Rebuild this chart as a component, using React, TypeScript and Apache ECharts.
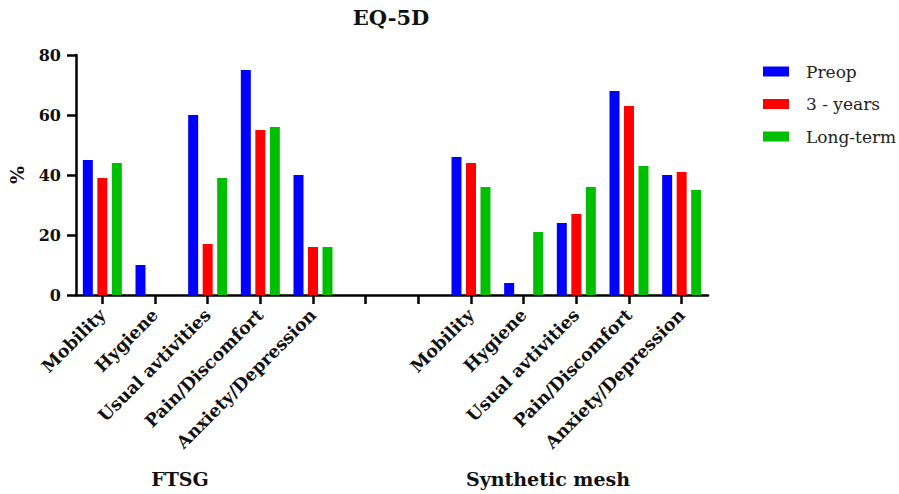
import React, { useEffect, useRef } from "react";
import * as echarts from "echarts";

const dimensions = ["Mobility", "Hygiene", "Usual avtivities", "Pain/Discomfort", "Anxiety/Depression"];
const groups = ["FTSG", "Synthetic mesh"];
const seriesNames = ["Preop", "3 - years", "Long-term"];
const yTicks = [0, 20, 40, 60, 80];

const ftsgPreop = [45, 10, 60, 75, 40];
const ftsg3y = [39, 0, 17, 55, 16];
const ftsgLong = [44, 0, 39, 56, 16];

const meshPreop = [46, 4, 24, 68, 40];
const mesh3y = [44, 0, 27, 63, 41];
const meshLong = [36, 21, 36, 43, 35];

const colors = ["#0000FF", "#FF0000", "#00BF00"];
const FONT = "DejaVu Serif";

export default function App() {
  const ref = useRef<HTMLDivElement>(null);
  useEffect(() => {
    document.body.style.margin = "0";
    if (!ref.current) return;
    const chart = echarts.init(ref.current, undefined, { renderer: "svg" });
    const cats = [
      ...dimensions.map((d) => "A|" + d),
      "gap|1",
      "gap|2",
      ...dimensions.map((d) => "B|" + d),
    ];
    const join = (a: number[], b: number[]) => [...a, null, null, ...b];
    const data = [join(ftsgPreop, meshPreop), join(ftsg3y, mesh3y), join(ftsgLong, meshLong)];
    chart.setOption({
      animation: false,
      textStyle: { fontFamily: FONT },
      grid: {
        left: 76,
        right: 191,
        top: 55,
        bottom: 199,
        containLabel: false,
        outerBoundsMode: "none",
      },
      legend: {
        orient: "vertical",
        left: 758,
        top: 58,
        itemWidth: 26,
        itemHeight: 10,
        itemGap: 15.5,
        icon: "rect",
        data: seriesNames,
        textStyle: { fontFamily: FONT, fontSize: 17, color: "#222", padding: [0, 0, 0, 12] },
      },
      xAxis: {
        type: "category",
        data: cats,
        axisLine: { show: true, lineStyle: { color: "#000", width: 2.5 } },
        axisTick: {
          show: true,
          alignWithLabel: true,
          interval: 0,
          inside: false,
          length: 9,
          lineStyle: { color: "#000", width: 2.5 },
        },
        axisLabel: {
          interval: 0,
          rotate: 45,
          margin: 17,
          fontFamily: FONT,
          fontWeight: "bold",
          fontSize: 17.5,
          color: "#111",
          formatter: (v: string) => (v.startsWith("gap") ? "" : v.split("|")[1]),
        },
      },
      yAxis: {
        type: "value",
        min: 0,
        max: yTicks[yTicks.length - 1],
        interval: 20,
        name: "%",
        nameLocation: "middle",
        nameRotate: 90,
        nameGap: 50,
        nameTextStyle: { fontFamily: FONT, fontWeight: "bold", fontSize: 19, color: "#111" },
        splitLine: { show: false },
        axisLine: { show: true, lineStyle: { color: "#000", width: 2.5 } },
        axisTick: { show: true, length: 9, lineStyle: { color: "#000", width: 2.5 } },
        axisLabel: { margin: 15, fontFamily: FONT, fontWeight: "bold", fontSize: 16, color: "#111" },
      },
      series: seriesNames.map((name, i) => ({
        name,
        type: "bar",
        data: data[i],
        barWidth: 10,
        barGap: "45%",
        itemStyle: { color: colors[i] },
      })),
      graphic: [
        {
          type: "text",
          x: 391,
          y: 17,
          style: {
            text: "EQ-5D",
            fontFamily: FONT,
            fontWeight: "bold",
            fontSize: 21,
            fill: "#111",
            textAlign: "center",
            textVerticalAlign: "middle",
          },
        },
        {
          type: "text",
          x: 180,
          y: 479,
          style: {
            text: groups[0],
            fontFamily: FONT,
            fontWeight: "bold",
            fontSize: 19,
            fill: "#111",
            textAlign: "center",
            textVerticalAlign: "middle",
          },
        },
        {
          type: "text",
          x: 548,
          y: 479,
          style: {
            text: groups[1],
            fontFamily: FONT,
            fontWeight: "bold",
            fontSize: 19,
            fill: "#111",
            textAlign: "center",
            textVerticalAlign: "middle",
          },
        },
      ],
    });
    return () => chart.dispose();
  }, []);
  return <div ref={ref} style={{ width: 899, height: 494 }} />;
}
